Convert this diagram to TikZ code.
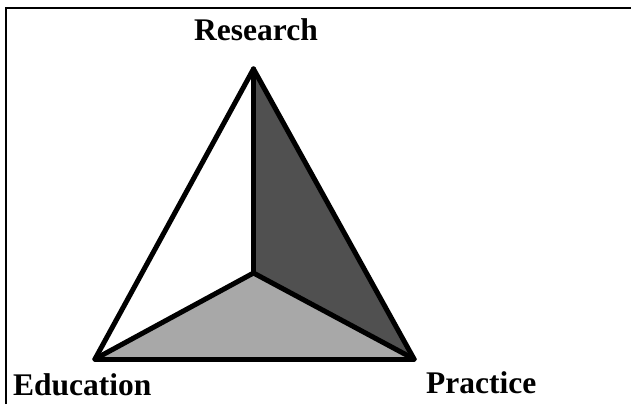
\documentclass[tikz,border=0pt]{standalone}
\usepackage{fontspec}
\setmainfont{Liberation Serif}
\usepackage{xcolor}
\usetikzlibrary{positioning}
\definecolor{TDark}{HTML}{505050}
\definecolor{TLight}{HTML}{A8A8A8}

\begin{document}
\begin{tikzpicture}[
  x=1pt,y=-1pt,
  lbl/.style={font=\fontsize{31.5}{34}\selectfont\bfseries,inner sep=0pt},
  edge/.style={line width=5pt,line join=miter,line cap=round},
  frame/.style={line width=1.8pt}
]
  \useasboundingbox (0,0) rectangle (631,404);
  \draw[frame] (6,404) -- (6,8) -- (631,8);
  % corners of the triangle and the inner point
  \coordinate (res) at (253.5,69);
  \coordinate (edu) at (95,359);
  \coordinate (pra) at (414,359);
  \coordinate (mid) at (253.5,273);
  % faces
  \fill[TDark] (res) -- (pra) -- (mid) -- cycle;
  \fill[TLight] (edu) -- (mid) -- (pra) -- cycle;
  \foreach \x/\y in {res/edu,edu/pra,pra/res,res/mid,edu/mid,mid/pra}
    {\draw[edge] (\x) -- (\y);}
  \node[lbl,anchor=base] (lres) at (256,41) {Research};
  \node[lbl,anchor=base west] (ledu) at (13,395) {Education};
  \node[lbl,anchor=base west] (lpra) at (426,393) {Practice};
\end{tikzpicture}
\end{document}
